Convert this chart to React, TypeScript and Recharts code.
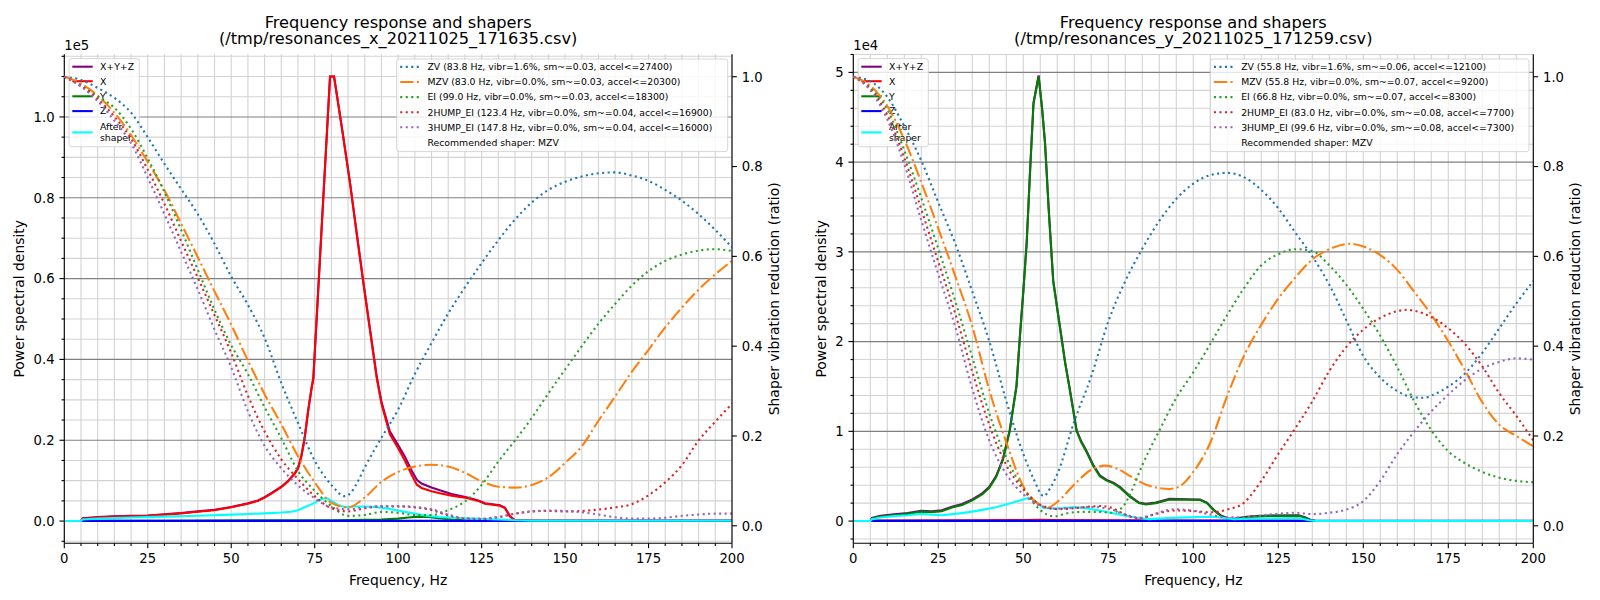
import React from "react";
import { LineChart, Line, XAxis, YAxis, CartesianGrid } from "recharts";

const FONT = '"DejaVu Sans", "Liberation Sans", sans-serif';

// ---------------- shared ticks ----------------
const FREQ_MINOR = [0, 5, 10, 15, 20, 25, 30, 35, 40, 45, 50, 55, 60, 65, 70, 75, 80, 85, 90, 95, 100, 105, 110, 115, 120, 125, 130, 135, 140, 145, 150, 155, 160, 165, 170, 175, 180, 185, 190, 195, 200];
const FREQ_MAJOR = [0, 25, 50, 75, 100, 125, 150, 175, 200];
const RATIO_TICKS = [0, 0.2, 0.4, 0.6, 0.8, 1.0];
const RATIO_DOMAIN: [number, number] = [-0.039, 1.05];
const SHAPER_HZ = [0, 5, 10, 15, 20, 25, 30, 35, 40, 45, 50, 55, 60, 65, 70, 75, 80, 85, 90, 95, 100, 105, 110, 115, 120, 125, 130, 135, 140, 145, 150, 155, 160, 165, 170, 175, 180, 185, 190, 195, 200];

// ---------------- LEFT chart: resonances_x (PSD in units of 1e5) ----------------
const LEFT_PSD_MAJOR = [0, 0.2, 0.4, 0.6, 0.8, 1.0];
const LEFT_PSD_MINOR = [-0.05, 0.05, 0.1, 0.15, 0.25, 0.3, 0.35, 0.45, 0.5, 0.55, 0.65, 0.7, 0.75, 0.85, 0.9, 0.95, 1.05, 1.1, 1.15];
const LEFT_PSD_DOMAIN: [number, number] = [-0.055, 1.155];

const X_LEFT_HZ = [0, 5, 5.5, 10, 15, 20, 25, 30, 35, 40, 45, 50, 55, 58, 60, 62, 65, 67, 69, 70, 71, 72, 73, 74, 74.6, 77.1, 79.6, 80.8, 83.2, 85.6, 87.6, 89.6, 91.6, 93.6, 95, 97.5, 100, 102, 104, 105.6, 107, 110, 112.5, 116, 120.5, 124, 126, 130.5, 132, 133.5, 135, 140, 200];
const X_LEFT_PSD = [0, 0, 0.006, 0.009, 0.011, 0.012, 0.013, 0.016, 0.019, 0.023, 0.027, 0.034, 0.043, 0.05, 0.058, 0.068, 0.084, 0.098, 0.117, 0.13, 0.16, 0.205, 0.27, 0.325, 0.353, 0.727, 1.1, 1.1, 0.97, 0.835, 0.71, 0.588, 0.47, 0.353, 0.29, 0.215, 0.18, 0.15, 0.115, 0.09, 0.082, 0.074, 0.069, 0.063, 0.057, 0.05, 0.043, 0.038, 0.032, 0.011, 0.002, 0.001, 0.001];
const XYZ_LEFT_PSD = [0, 0, 0.007, 0.01, 0.012, 0.013, 0.014, 0.017, 0.02, 0.024, 0.028, 0.035, 0.044, 0.051, 0.059, 0.069, 0.085, 0.099, 0.118, 0.131, 0.161, 0.206, 0.271, 0.326, 0.354, 0.728, 1.1, 1.1, 0.971, 0.836, 0.712, 0.59, 0.473, 0.357, 0.295, 0.222, 0.188, 0.16, 0.126, 0.102, 0.093, 0.083, 0.076, 0.067, 0.059, 0.051, 0.044, 0.039, 0.033, 0.012, 0.002, 0.001, 0.001];
const Y_LEFT_HZ = [0, 5, 5.5, 30, 60, 80, 90, 95, 100, 103, 106, 109, 112, 116, 120, 126, 132, 135, 200];
const Y_LEFT_PSD = [0, 0, 0.001, 0.001, 0.002, 0.002, 0.003, 0.004, 0.006, 0.009, 0.011, 0.01, 0.007, 0.004, 0.002, 0.001, 0.001, 0, 0];
const Z_LEFT_HZ = [0, 5, 5.5, 100, 200];
const Z_LEFT_PSD = [0, 0, 0.0005, 0.0005, 0.0005];
const AFTER_LEFT_HZ = [0, 5, 5.5, 10, 20, 30, 40, 50, 60, 65, 68, 70, 72, 75, 77, 78.5, 80, 82, 84, 87, 90, 93, 96, 100, 104, 108, 112, 120, 130, 135, 140, 200];
const AFTER_LEFT_PSD = [0, 0, 0.004, 0.006, 0.009, 0.011, 0.013, 0.016, 0.019, 0.021, 0.023, 0.027, 0.034, 0.045, 0.054, 0.057, 0.05, 0.04, 0.035, 0.036, 0.036, 0.035, 0.032, 0.026, 0.02, 0.014, 0.01, 0.007, 0.004, 0.002, 0.001, 0.001];

const ZV_LEFT_HZ = [0, 5, 10, 15, 20, 25, 30, 35, 40, 45, 50, 55, 60, 65, 70, 75, 80, 84, 86, 88, 90, 95, 100, 105, 110, 115, 120, 125, 130, 135, 140, 145, 150, 155, 160, 165, 170, 175, 180, 185, 190, 195, 200];
const ZV_LEFT = [1.0, 0.993, 0.975, 0.953, 0.92, 0.865, 0.806, 0.75, 0.694, 0.628, 0.555, 0.492, 0.418, 0.318, 0.229, 0.145, 0.091, 0.066, 0.075, 0.1, 0.13, 0.196, 0.259, 0.338, 0.407, 0.473, 0.531, 0.585, 0.636, 0.682, 0.72, 0.748, 0.766, 0.778, 0.785, 0.787, 0.78, 0.768, 0.748, 0.724, 0.694, 0.659, 0.62];
const MZV_LEFT = [1.0, 0.985, 0.958, 0.92, 0.87, 0.81, 0.747, 0.673, 0.598, 0.522, 0.448, 0.368, 0.293, 0.226, 0.155, 0.097, 0.051, 0.041, 0.063, 0.098, 0.12, 0.132, 0.136, 0.132, 0.118, 0.099, 0.087, 0.085, 0.091, 0.108, 0.14, 0.177, 0.234, 0.288, 0.343, 0.392, 0.442, 0.486, 0.526, 0.56, 0.59];
const EI_LEFT = [1.0, 0.98, 0.956, 0.931, 0.884, 0.818, 0.743, 0.659, 0.57, 0.481, 0.402, 0.338, 0.264, 0.195, 0.122, 0.078, 0.044, 0.022, 0.024, 0.031, 0.029, 0.024, 0.024, 0.035, 0.054, 0.091, 0.143, 0.19, 0.24, 0.295, 0.348, 0.4, 0.45, 0.494, 0.535, 0.567, 0.59, 0.604, 0.613, 0.616, 0.612];
const HUMP2_LEFT = [1.0, 0.98, 0.951, 0.911, 0.862, 0.793, 0.717, 0.634, 0.552, 0.469, 0.385, 0.29, 0.21, 0.148, 0.104, 0.066, 0.039, 0.032, 0.039, 0.043, 0.043, 0.041, 0.035, 0.023, 0.016, 0.015, 0.019, 0.027, 0.032, 0.033, 0.032, 0.033, 0.036, 0.041, 0.048, 0.068, 0.097, 0.135, 0.19, 0.232, 0.272];
const HUMP3_LEFT = [1.0, 0.978, 0.946, 0.902, 0.852, 0.775, 0.694, 0.61, 0.526, 0.437, 0.353, 0.255, 0.178, 0.128, 0.09, 0.061, 0.041, 0.037, 0.041, 0.044, 0.044, 0.042, 0.037, 0.025, 0.017, 0.016, 0.02, 0.027, 0.032, 0.034, 0.033, 0.03, 0.025, 0.019, 0.016, 0.016, 0.018, 0.022, 0.025, 0.027, 0.027];

const LEFT_SHAPER_LABELS = [
  "ZV (83.8 Hz, vibr=1.6%, sm~=0.03, accel<=27400)",
  "MZV (83.0 Hz, vibr=0.0%, sm~=0.03, accel<=20300)",
  "EI (99.0 Hz, vibr=0.0%, sm~=0.03, accel<=18300)",
  "2HUMP_EI (123.4 Hz, vibr=0.0%, sm~=0.04, accel<=16900)",
  "3HUMP_EI (147.8 Hz, vibr=0.0%, sm~=0.04, accel<=16000)",
];

// ---------------- RIGHT chart: resonances_y (PSD in units of 1e4) ----------------
const RIGHT_PSD_MAJOR = [0, 1, 2, 3, 4, 5];
const RIGHT_PSD_MINOR = [-0.2, 0.2, 0.4, 0.6, 0.8, 1.2, 1.4, 1.6, 1.8, 2.2, 2.4, 2.6, 2.8, 3.2, 3.4, 3.6, 3.8, 4.2, 4.4, 4.6, 4.8, 5.2];
const RIGHT_PSD_DOMAIN: [number, number] = [-0.2477, 5.2017];

const Y_RIGHT_HZ = [0, 5, 5.5, 8, 12, 16, 20, 23, 26, 29, 32, 35, 38, 40, 42, 44, 46, 48, 49, 50, 51, 52, 53, 54.5, 55.5, 56.4, 57.5, 58.8, 60.3, 62.3, 63.5, 65.7, 67, 68.6, 70.5, 72.5, 74.5, 76.5, 78.5, 81.4, 84, 86, 89, 93, 98, 102, 104, 106, 108, 110, 112, 115, 118, 123, 131, 133, 134.5, 136, 200];
const Y_RIGHT_PSD = [0, 0, 0.03, 0.05, 0.065, 0.08, 0.105, 0.1, 0.11, 0.15, 0.18, 0.23, 0.3, 0.37, 0.49, 0.68, 1.0, 1.5, 2.05, 2.55, 3.1, 3.9, 4.65, 4.955, 4.6, 4.2, 3.45, 2.67, 2.28, 1.76, 1.5, 1.0, 0.88, 0.77, 0.62, 0.5, 0.45, 0.42, 0.37, 0.27, 0.2, 0.185, 0.2, 0.24, 0.237, 0.235, 0.2, 0.12, 0.06, 0.025, 0.02, 0.04, 0.05, 0.058, 0.06, 0.035, 0.01, 0, 0];
const XYZ_RIGHT_PSD = [0, 0, 0.035, 0.058, 0.075, 0.09, 0.115, 0.11, 0.12, 0.16, 0.19, 0.242, 0.312, 0.382, 0.502, 0.693, 1.013, 1.512, 2.062, 2.562, 3.112, 3.912, 4.662, 4.966, 4.612, 4.212, 3.462, 2.68, 2.292, 1.772, 1.512, 1.011, 0.891, 0.78, 0.63, 0.51, 0.459, 0.428, 0.378, 0.277, 0.207, 0.192, 0.207, 0.247, 0.243, 0.241, 0.206, 0.126, 0.066, 0.031, 0.025, 0.045, 0.055, 0.062, 0.064, 0.039, 0.012, 0, 0];
const X_RIGHT_HZ = [0, 5, 5.5, 30, 50, 55, 60, 80, 110, 135, 136, 200];
const X_RIGHT_PSD = [0, 0, 0.005, 0.008, 0.012, 0.015, 0.012, 0.008, 0.006, 0.004, 0, 0];
const Z_RIGHT_HZ = [0, 5, 5.5, 200];
const Z_RIGHT_PSD = [0, 0, 0.002, 0.002];
const AFTER_RIGHT_HZ = [0, 5, 5.5, 8, 12, 16, 20, 23, 26, 30, 34, 38, 42, 46, 49, 51.5, 53, 54.5, 56, 59, 62, 65, 68, 72, 76, 80, 84, 87, 91, 96, 101, 106, 109, 112, 116, 125, 131, 134, 136, 200];
const AFTER_RIGHT_PSD = [0, 0, 0.02, 0.04, 0.055, 0.065, 0.08, 0.07, 0.065, 0.08, 0.1, 0.125, 0.155, 0.195, 0.23, 0.26, 0.235, 0.19, 0.145, 0.14, 0.145, 0.155, 0.145, 0.12, 0.09, 0.06, 0.035, 0.022, 0.03, 0.038, 0.044, 0.048, 0.035, 0.02, 0.025, 0.03, 0.035, 0.01, 0, 0];

const ZV_RIGHT_HZ = [0, 5, 10, 15, 20, 25, 30, 35, 40, 45, 50, 53, 56, 58, 60, 65, 70, 75, 80, 85, 90, 95, 100, 105, 110, 115, 120, 125, 130, 135, 140, 145, 150, 155, 160, 165, 168, 170, 175, 180, 185, 190, 195, 200];
const ZV_RIGHT = [1.0, 0.99, 0.955, 0.89, 0.813, 0.72, 0.628, 0.522, 0.411, 0.278, 0.16, 0.105, 0.066, 0.085, 0.115, 0.233, 0.333, 0.455, 0.545, 0.617, 0.679, 0.728, 0.762, 0.781, 0.786, 0.776, 0.748, 0.707, 0.653, 0.6, 0.537, 0.458, 0.378, 0.33, 0.3, 0.286, 0.285, 0.29, 0.31, 0.34, 0.385, 0.44, 0.495, 0.545];
const MZV_RIGHT_HZ = [0, 5, 10, 15, 20, 25, 30, 35, 40, 45, 50, 54, 57, 60, 65, 70, 74, 78, 82, 86, 90, 93, 96, 100, 105, 110, 115, 120, 125, 130, 135, 140, 146, 150, 155, 160, 165, 170, 175, 180, 185, 190, 195, 200];
const MZV_RIGHT = [1.0, 0.98, 0.935, 0.86, 0.765, 0.662, 0.556, 0.444, 0.302, 0.186, 0.088, 0.051, 0.04, 0.053, 0.092, 0.125, 0.134, 0.126, 0.108, 0.092, 0.084, 0.082, 0.088, 0.12, 0.185, 0.29, 0.38, 0.448, 0.506, 0.553, 0.593, 0.616, 0.628, 0.622, 0.603, 0.57, 0.521, 0.47, 0.411, 0.345, 0.275, 0.225, 0.2, 0.177];
const EI_RIGHT_HZ = [0, 5, 10, 15, 20, 25, 30, 35, 40, 45, 50, 55, 59, 63, 67, 72, 76, 79, 82, 85, 90, 95, 100, 105, 110, 115, 120, 125, 130, 135, 140, 145, 150, 155, 160, 165, 170, 175, 180, 185, 190, 195, 200];
const EI_RIGHT = [1.0, 0.975, 0.927, 0.836, 0.73, 0.617, 0.5, 0.375, 0.25, 0.152, 0.083, 0.035, 0.021, 0.028, 0.031, 0.031, 0.029, 0.04, 0.08, 0.135, 0.212, 0.285, 0.342, 0.405, 0.47, 0.53, 0.58, 0.605, 0.616, 0.612, 0.58, 0.537, 0.483, 0.423, 0.353, 0.277, 0.213, 0.166, 0.139, 0.12, 0.107, 0.1, 0.097];
const HUMP2_RIGHT_HZ = [0, 5, 10, 15, 20, 25, 30, 35, 40, 45, 50, 55, 60, 65, 70, 73, 76, 80, 84, 88, 92, 95, 100, 105, 110, 115, 120, 125, 130, 135, 140, 145, 150, 155, 160, 163, 165, 170, 175, 180, 185, 190, 195, 200];
const HUMP2_RIGHT = [1.0, 0.973, 0.915, 0.82, 0.705, 0.588, 0.472, 0.343, 0.225, 0.135, 0.081, 0.047, 0.037, 0.039, 0.043, 0.044, 0.04, 0.025, 0.016, 0.024, 0.032, 0.034, 0.033, 0.03, 0.036, 0.052, 0.1, 0.16, 0.217, 0.277, 0.345, 0.398, 0.437, 0.463, 0.478, 0.481, 0.479, 0.465, 0.44, 0.404, 0.355, 0.295, 0.245, 0.19];
const HUMP3_RIGHT_HZ = [0, 5, 10, 15, 20, 25, 30, 35, 40, 45, 50, 55, 60, 65, 70, 75, 80, 84, 88, 92, 95, 100, 105, 110, 115, 120, 125, 130, 135, 140, 145, 150, 155, 160, 165, 170, 175, 180, 185, 190, 195, 200];
const HUMP3_RIGHT = [1.0, 0.97, 0.905, 0.805, 0.68, 0.56, 0.443, 0.305, 0.19, 0.115, 0.07, 0.045, 0.038, 0.04, 0.042, 0.038, 0.025, 0.018, 0.025, 0.034, 0.037, 0.033, 0.025, 0.019, 0.019, 0.023, 0.027, 0.029, 0.026, 0.029, 0.036, 0.055, 0.1, 0.16, 0.21, 0.255, 0.292, 0.325, 0.35, 0.365, 0.373, 0.37];

const RIGHT_SHAPER_LABELS = [
  "ZV (55.8 Hz, vibr=1.6%, sm~=0.06, accel<=12100)",
  "MZV (55.8 Hz, vibr=0.0%, sm~=0.07, accel<=9200)",
  "EI (66.8 Hz, vibr=0.0%, sm~=0.07, accel<=8300)",
  "2HUMP_EI (83.0 Hz, vibr=0.0%, sm~=0.08, accel<=7700)",
  "3HUMP_EI (99.6 Hz, vibr=0.0%, sm~=0.08, accel<=7300)",
];
const RECOMMENDED = "Recommended shaper: MZV";
const PSD_LABELS = ["X+Y+Z", "X", "Y", "Z"];

// ---------------- styling ----------------
const PSD_COLORS = ["#800080", "#ff0000", "#008000", "#0000ff"];
const AFTER_COLOR = "#00ffff";
const SHAPER_COLORS = ["#1f77b4", "#ff7f0e", "#2ca02c", "#d62728", "#9467bd"];
const DOT = "2.08 3.43";
const DASHDOT = "13.3 3.33 2.08 3.33";
const SHAPER_DASH = [DOT, DASHDOT, DOT, DOT, DOT];
const LW = 2.08;
const TICK_FONT = 13.2;
const LABEL_FONT = 13.9;
const TITLE_FONT = 16.2;
const LEGEND_FONT = 9.3;
const MAJOR_LEN = 4.86;
const MINOR_LEN = 2.78;
const LABEL_PAD = 9.72;
const PANEL_W = 800;
const H = 600;
const TOP = 54.3;
const BOTTOM = 543.3;

type Pt = { f: number; v: number };
const pts = (hz: number[], vals: number[]): Pt[] => hz.map((f, i) => ({ f, v: vals[i] }));
const isIn = (v: number, arr: number[]) => arr.some((a) => Math.abs(a - v) < 1e-9);

interface SeriesDef {
  name: string;
  hz: number[];
  vals: number[];
  color: string;
  dash?: string;
}

const renderXTick = (p: any) => {
  const v = p.payload.value as number;
  const major = isIn(v, FREQ_MAJOR);
  return (
    <g>
      <line x1={p.x} x2={p.x} y1={p.y} y2={p.y + (major ? MAJOR_LEN : MINOR_LEN)} stroke="#000" strokeWidth={1.1} />
      {major && (
        <text x={p.x} y={p.y + 19.7} textAnchor="middle" fontSize={TICK_FONT} fontFamily={FONT} fill="#000">
          {v}
        </text>
      )}
    </g>
  );
};

const makeLeftTick = (majors: number[], fmt: (v: number) => string) => (p: any) => {
  const v = p.payload.value as number;
  const major = isIn(v, majors);
  return (
    <g>
      <line x1={p.x - (major ? MAJOR_LEN : MINOR_LEN)} x2={p.x} y1={p.y} y2={p.y} stroke="#000" strokeWidth={1.1} />
      {major && (
        <text x={p.x - LABEL_PAD} y={p.y + 0.36 * TICK_FONT} textAnchor="end" fontSize={TICK_FONT} fontFamily={FONT} fill="#000">
          {fmt(v)}
        </text>
      )}
    </g>
  );
};

const renderRightTick = (p: any) => {
  const v = p.payload.value as number;
  return (
    <g>
      <line x1={p.x} x2={p.x + MAJOR_LEN} y1={p.y} y2={p.y} stroke="#000" strokeWidth={1.1} />
      <text x={p.x + LABEL_PAD} y={p.y + 0.36 * TICK_FONT} textAnchor="start" fontSize={TICK_FONT} fontFamily={FONT} fill="#000">
        {v.toFixed(1)}
      </text>
    </g>
  );
};

interface PanelProps {
  left: number;
  plotL: number;
  plotR: number;
  psdDomain: [number, number];
  psdMajor: number[];
  psdMinor: number[];
  psdFmt: (v: number) => string;
  offsetText: string;
  psdSeries: SeriesDef[];
  shaperSeries: SeriesDef[];
  shaperLabels: string[];
  legendWidth: number;
  fileLine: string;
  ylabelX: number;
  rlabelX: number;
}

function Panel(props: PanelProps) {
  const { left, plotL, plotR } = props;
  const cx = (plotL + plotR) / 2;
  const cy = (TOP + BOTTOM) / 2;
  const allPsdTicks = [...props.psdMinor, ...props.psdMajor].sort((a, b) => a - b);

  // PSD legend geometry
  const lgA = { x: plotL + 4.8, y: 58.6, w: 70.2, h: 88.2 };
  const rowsA = [66.7, 81.2, 96.3, 111.1];
  // shaper legend geometry
  const lgB = { x: plotR - 4.3 - props.legendWidth, y: 59.0, w: props.legendWidth, h: 92.6 };
  const rowB = (i: number) => 66.9 + 15.1 * i;

  return (
    <div style={{ position: "absolute", left, top: 0, width: PANEL_W, height: H }}>
      {/* PSD chart (left axis) */}
      <div style={{ position: "absolute", left: 0, top: 0 }}>
        <LineChart width={PANEL_W} height={H} margin={{ top: TOP, right: PANEL_W - plotR, bottom: 0, left: 0 }}>
          <CartesianGrid verticalValues={FREQ_MINOR} horizontalValues={props.psdMinor} stroke="#d3d3d3" strokeWidth={1.1} />
          <CartesianGrid vertical={false} horizontalValues={props.psdMajor} stroke="#808080" strokeWidth={1.1} />
          <XAxis
            type="number"
            dataKey="f"
            domain={[0, 200]}
            allowDataOverflow
            ticks={FREQ_MINOR}
            interval={0}
            height={H - BOTTOM}
            tickSize={0}
            tickMargin={0}
            tickLine={false}
            axisLine={{ stroke: "#000", strokeWidth: 1.1 }}
            tick={renderXTick}
          />
          <YAxis
            type="number"
            dataKey="v"
            domain={props.psdDomain}
            allowDataOverflow
            ticks={allPsdTicks}
            interval={0}
            width={plotL}
            tickSize={0}
            tickMargin={0}
            tickLine={false}
            axisLine={{ stroke: "#000", strokeWidth: 1.1 }}
            tick={makeLeftTick(props.psdMajor, props.psdFmt)}
          />
          {props.psdSeries.map((s) => (
            <Line
              key={s.name}
              data={pts(s.hz, s.vals)}
              dataKey="v"
              type="linear"
              stroke={s.color}
              strokeWidth={LW}
              dot={false}
              activeDot={false}
              isAnimationActive={false}
            />
          ))}
        </LineChart>
      </div>

      {/* PSD legend (sits under the shaper curves) */}
      <svg width={PANEL_W} height={H} style={{ position: "absolute", left: 0, top: 0, pointerEvents: "none" }}>
        <rect x={lgA.x} y={lgA.y} width={lgA.w} height={lgA.h} rx={2.5} fill="#ffffff" fillOpacity={0.8} stroke="#cccccc" strokeOpacity={0.8} strokeWidth={1} />
        {PSD_LABELS.map((lab, i) => (
          <g key={lab}>
            <line x1={plotL + 8} x2={plotL + 28.4} y1={rowsA[i]} y2={rowsA[i]} stroke={PSD_COLORS[i]} strokeWidth={LW} />
            <text x={plotL + 35.7} y={rowsA[i] + 0.36 * LEGEND_FONT} fontSize={LEGEND_FONT} fontFamily={FONT} fill="#000">
              {lab}
            </text>
          </g>
        ))}
        <line x1={plotL + 8} x2={plotL + 28.4} y1={132.4} y2={132.4} stroke={AFTER_COLOR} strokeWidth={LW} />
        <text x={plotL + 35.7} y={126.4 + 0.36 * LEGEND_FONT} fontSize={LEGEND_FONT} fontFamily={FONT} fill="#000">
          After
        </text>
        <text x={plotL + 35.7} y={137.5 + 0.36 * LEGEND_FONT} fontSize={LEGEND_FONT} fontFamily={FONT} fill="#000">
          shaper
        </text>
      </svg>

      {/* Shaper chart (right axis) */}
      <div style={{ position: "absolute", left: 0, top: 0 }}>
        <LineChart width={PANEL_W} height={H} margin={{ top: TOP, right: 0, bottom: H - BOTTOM, left: plotL }}>
          <XAxis type="number" dataKey="f" domain={[0, 200]} allowDataOverflow hide />
          <XAxis
            xAxisId="top"
            orientation="top"
            type="number"
            dataKey="f"
            domain={[0, 200]}
            allowDataOverflow
            height={0}
            tick={false}
            tickLine={false}
            axisLine={{ stroke: "#000", strokeWidth: 1.1 }}
          />
          <YAxis
            orientation="right"
            type="number"
            dataKey="v"
            domain={RATIO_DOMAIN}
            allowDataOverflow
            ticks={RATIO_TICKS}
            interval={0}
            width={PANEL_W - plotR}
            tickSize={0}
            tickMargin={0}
            tickLine={false}
            axisLine={{ stroke: "#000", strokeWidth: 1.1 }}
            tick={renderRightTick}
          />
          {props.shaperSeries.map((s) => (
            <Line
              key={s.name}
              data={pts(s.hz, s.vals)}
              dataKey="v"
              type="monotone"
              stroke={s.color}
              strokeWidth={LW}
              strokeDasharray={s.dash}
              dot={false}
              activeDot={false}
              isAnimationActive={false}
            />
          ))}
        </LineChart>
      </div>

      {/* texts, shaper legend */}
      <svg width={PANEL_W} height={H} style={{ position: "absolute", left: 0, top: 0, pointerEvents: "none" }}>
        <text x={cx} y={27.7} textAnchor="middle" fontSize={TITLE_FONT} fontFamily={FONT} fill="#000">
          Frequency response and shapers
        </text>
        <text x={cx} y={43.9} textAnchor="middle" fontSize={TITLE_FONT} fontFamily={FONT} fill="#000">
          {props.fileLine}
        </text>
        <text x={plotL} y={50} fontSize={TICK_FONT} fontFamily={FONT} fill="#000">
          {props.offsetText}
        </text>
        <text x={cx} y={584.5} textAnchor="middle" fontSize={LABEL_FONT} fontFamily={FONT} fill="#000">
          Frequency, Hz
        </text>
        <text x={props.ylabelX} y={cy} textAnchor="middle" fontSize={LABEL_FONT} fontFamily={FONT} fill="#000" transform={`rotate(-90 ${props.ylabelX} ${cy})`}>
          Power spectral density
        </text>
        <text x={props.rlabelX} y={cy} textAnchor="middle" fontSize={LABEL_FONT} fontFamily={FONT} fill="#000" transform={`rotate(-90 ${props.rlabelX} ${cy})`}>
          Shaper vibration reduction (ratio)
        </text>

        <rect x={lgB.x} y={lgB.y} width={lgB.w} height={lgB.h} rx={2.5} fill="#ffffff" fillOpacity={0.8} stroke="#cccccc" strokeOpacity={0.8} strokeWidth={1} />
        {props.shaperLabels.map((lab, i) => (
          <g key={lab}>
            <line x1={lgB.x + 3.5} x2={lgB.x + 23} y1={rowB(i)} y2={rowB(i)} stroke={SHAPER_COLORS[i]} strokeWidth={LW} strokeDasharray={SHAPER_DASH[i]} />
            <text x={lgB.x + 30.8} y={rowB(i) + 0.36 * LEGEND_FONT} fontSize={LEGEND_FONT} fontFamily={FONT} fill="#000">
              {lab}
            </text>
          </g>
        ))}
        <text x={lgB.x + 30.8} y={rowB(5) + 0.36 * LEGEND_FONT} fontSize={LEGEND_FONT} fontFamily={FONT} fill="#000">
          {RECOMMENDED}
        </text>
      </svg>
    </div>
  );
}

const shaperNames = ["ZV", "MZV", "EI", "2HUMP_EI", "3HUMP_EI"];

export default function App() {
  const leftPsd: SeriesDef[] = [
    { name: "X+Y+Z", hz: X_LEFT_HZ, vals: XYZ_LEFT_PSD, color: PSD_COLORS[0] },
    { name: "X", hz: X_LEFT_HZ, vals: X_LEFT_PSD, color: PSD_COLORS[1] },
    { name: "Y", hz: Y_LEFT_HZ, vals: Y_LEFT_PSD, color: PSD_COLORS[2] },
    { name: "Z", hz: Z_LEFT_HZ, vals: Z_LEFT_PSD, color: PSD_COLORS[3] },
    { name: "After shaper", hz: AFTER_LEFT_HZ, vals: AFTER_LEFT_PSD, color: AFTER_COLOR },
  ];
  const leftShapers: SeriesDef[] = [
    { name: shaperNames[0], hz: ZV_LEFT_HZ, vals: ZV_LEFT, color: SHAPER_COLORS[0], dash: SHAPER_DASH[0] },
    { name: shaperNames[1], hz: SHAPER_HZ, vals: MZV_LEFT, color: SHAPER_COLORS[1], dash: SHAPER_DASH[1] },
    { name: shaperNames[2], hz: SHAPER_HZ, vals: EI_LEFT, color: SHAPER_COLORS[2], dash: SHAPER_DASH[2] },
    { name: shaperNames[3], hz: SHAPER_HZ, vals: HUMP2_LEFT, color: SHAPER_COLORS[3], dash: SHAPER_DASH[3] },
    { name: shaperNames[4], hz: SHAPER_HZ, vals: HUMP3_LEFT, color: SHAPER_COLORS[4], dash: SHAPER_DASH[4] },
  ];
  const rightPsd: SeriesDef[] = [
    { name: "X+Y+Z", hz: Y_RIGHT_HZ, vals: XYZ_RIGHT_PSD, color: PSD_COLORS[0] },
    { name: "X", hz: X_RIGHT_HZ, vals: X_RIGHT_PSD, color: PSD_COLORS[1] },
    { name: "Y", hz: Y_RIGHT_HZ, vals: Y_RIGHT_PSD, color: PSD_COLORS[2] },
    { name: "Z", hz: Z_RIGHT_HZ, vals: Z_RIGHT_PSD, color: PSD_COLORS[3] },
    { name: "After shaper", hz: AFTER_RIGHT_HZ, vals: AFTER_RIGHT_PSD, color: AFTER_COLOR },
  ];
  const rightShapers: SeriesDef[] = [
    { name: shaperNames[0], hz: ZV_RIGHT_HZ, vals: ZV_RIGHT, color: SHAPER_COLORS[0], dash: SHAPER_DASH[0] },
    { name: shaperNames[1], hz: MZV_RIGHT_HZ, vals: MZV_RIGHT, color: SHAPER_COLORS[1], dash: SHAPER_DASH[1] },
    { name: shaperNames[2], hz: EI_RIGHT_HZ, vals: EI_RIGHT, color: SHAPER_COLORS[2], dash: SHAPER_DASH[2] },
    { name: shaperNames[3], hz: HUMP2_RIGHT_HZ, vals: HUMP2_RIGHT, color: SHAPER_COLORS[3], dash: SHAPER_DASH[3] },
    { name: shaperNames[4], hz: HUMP3_RIGHT_HZ, vals: HUMP3_RIGHT, color: SHAPER_COLORS[4], dash: SHAPER_DASH[4] },
  ];

  return (
    <div style={{ position: "absolute", left: 0, top: 0, width: 1600, height: 600, background: "#ffffff", fontFamily: FONT, overflow: "hidden" }}>
      <Panel
        left={0}
        plotL={64.3}
        plotR={732}
        psdDomain={LEFT_PSD_DOMAIN}
        psdMajor={LEFT_PSD_MAJOR}
        psdMinor={LEFT_PSD_MINOR}
        psdFmt={(v) => v.toFixed(1)}
        offsetText="1e5"
        psdSeries={leftPsd}
        shaperSeries={leftShapers}
        shaperLabels={LEFT_SHAPER_LABELS}
        legendWidth={331}
        fileLine="(/tmp/resonances_x_20211025_171635.csv)"
        ylabelX={24.5}
        rlabelX={779.2}
      />
      <Panel
        left={800}
        plotL={53.3}
        plotR={733.3}
        psdDomain={RIGHT_PSD_DOMAIN}
        psdMajor={RIGHT_PSD_MAJOR}
        psdMinor={RIGHT_PSD_MINOR}
        psdFmt={(v) => v.toFixed(0)}
        offsetText="1e4"
        psdSeries={rightPsd}
        shaperSeries={rightShapers}
        shaperLabels={RIGHT_SHAPER_LABELS}
        legendWidth={318.6}
        fileLine="(/tmp/resonances_y_20211025_171259.csv)"
        ylabelX={26.5}
        rlabelX={780.5}
      />
    </div>
  );
}
